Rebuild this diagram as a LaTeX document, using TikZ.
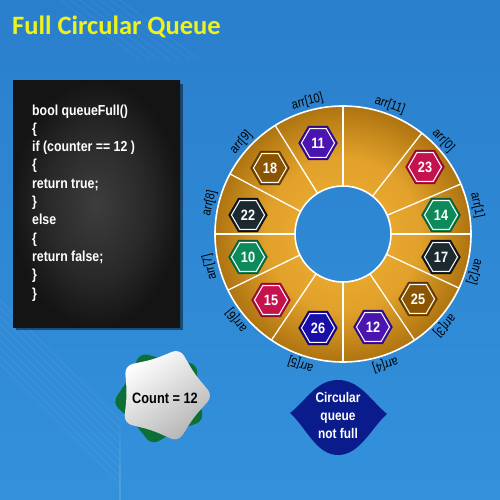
\documentclass[tikz,border=0pt]{standalone}
\usepackage{fontspec}
\setmainfont[FakeStretch=0.85]{Liberation Sans}
\newfontfamily\titlefont{Carlito}
\usetikzlibrary{shapes.geometric,calc}
\definecolor{bgtop}{HTML}{2A7FCC}
\definecolor{bgbot}{HTML}{3391DB}
\definecolor{titleyellow}{HTML}{EEF21A}
\definecolor{ringin}{HTML}{E8A72E}
\definecolor{ringout}{HTML}{AE7410}
\definecolor{hpurple}{HTML}{4A14B0}
\definecolor{hpurpled}{HTML}{2A0A80}
\definecolor{hcrimson}{HTML}{C4124E}
\definecolor{hcrimsond}{HTML}{8A0A30}
\definecolor{hbrown}{HTML}{8A5400}
\definecolor{hbrownd}{HTML}{5A3500}
\definecolor{hdark}{HTML}{1C2A30}
\definecolor{hdarkd}{HTML}{0A1015}
\definecolor{hgreen}{HTML}{0D8A5A}
\definecolor{hgreend}{HTML}{055A3A}
\definecolor{hblue}{HTML}{1A0EA8}
\definecolor{hblued}{HTML}{100070}
\definecolor{navy}{HTML}{0A1C8C}
\definecolor{stargreen}{HTML}{0C7036}
\pgfdeclareradialshading{ringshade}{\pgfpoint{0bp}{0bp}}{color(0bp)=(ringin); color(9bp)=(ringin); color(15bp)=(ringin!88!ringout); color(25bp)=(ringout); color(50bp)=(ringout)}
\pgfdeclareradialshading{codeshade}{\pgfpoint{0bp}{0bp}}{color(0bp)=(black!76); color(15bp)=(black!84); color(25bp)=(black!92); color(50bp)=(black!92)}
\tikzset{
  hexout/.style={regular polygon, regular polygon sides=6, minimum size=38pt, inner sep=0pt, line width=1.2pt},
  hexin/.style={regular polygon, regular polygon sides=6, minimum size=33pt, inner sep=0pt, draw=white, line width=1pt, text=white, font=\bfseries\fontsize{15}{15}\selectfont},
  segline/.style={white, line width=1.3pt},
  lab/.style={font=\fontsize{13}{13}\selectfont, text=black, inner sep=0pt},
  codeline/.style={anchor=base west, text=white, font=\bfseries\fontsize{14.5}{14.5}\selectfont, inner sep=0pt},
  starshape/.style={star, star points=5, minimum size=98pt, rounded corners=8pt, inner sep=0pt},
}
\newcommand{\hexnode}[4]{%
  \node[hexout, fill=h#3, draw=h#3d] (#1o) at #2 {};
  \node[hexin, fill=h#3] (#1) at #2 {#4};}
\begin{document}
\begin{tikzpicture}[x=1pt,y=1pt]
\useasboundingbox (0,0) rectangle (500,-500);
\shade[top color=bgtop, bottom color=bgbot] (0,0) rectangle (500,-500);
% faint background lines
\begin{scope}[white, opacity=0.06, line width=0.8pt]
  \foreach \d in {0,8,...,64} {\draw (0,-300-\d) -- (120,-420-\d) -- (120,-500);}
  \foreach \d in {0,10,...,60} {\draw (60+\d,0) -- (140+\d,-60);}
\end{scope}
% title
\node[anchor=base west, inner sep=0pt, text=titleyellow, font=\titlefont\bfseries\fontsize{26.5}{26.5}\selectfont] (title) at (12,-35) {Full Circular Queue};
% code box
\fill[black, opacity=0.45] (16,-84) rectangle (183,-330);
\shade[shading=codeshade] (13,-81) rectangle (180,-327);
\node[minimum width=167pt, minimum height=246pt, inner sep=0pt] (code) at (96.5,-204) {};
\foreach \t [count=\i from 0] in {bool queueFull(), \{, if (counter == 12 ), \{, return true;, \}, else, \{, return false;, \}, \}}
  \node[codeline] (cl\i) at (32,{-115-18.3*\i}) {\t};
% ring
\coordinate (c) at (343,-234);
\shade[shading=ringshade, even odd rule] (c) circle (128) (c) circle (48);
\draw[white, line width=1.6pt] (c) circle (128);
\draw[white, line width=1.6pt] (c) circle (48);
\foreach \a in {90,52,23,0,-25,-56,-90,-124,-154,180,152,122}
  \draw[segline] ($(c)+(\a:48)$) -- ($(c)+(\a:128)$);
% hexagons
\hexnode{v11}{(318,-143)}{purple}{11}
\hexnode{v23}{(425,-167)}{crimson}{23}
\hexnode{v18}{(270,-168)}{brown}{18}
\hexnode{v22}{(248,-215)}{dark}{22}
\hexnode{v14}{(441,-215)}{green}{14}
\hexnode{v10}{(248,-257)}{green}{10}
\hexnode{v17}{(441,-257)}{dark}{17}
\hexnode{v15}{(271,-300)}{crimson}{15}
\hexnode{v25}{(418,-299)}{brown}{25}
\hexnode{v26}{(318,-328)}{blue}{26}
\hexnode{v12}{(373,-327)}{purple}{12}
% labels
\foreach \i/\a in {10/105, 11/70, 0/43, 1/12, 2/-16, 3/-42, 4/-72, 5/-108, 6/-141, 7/-166, 8/167, 9/138}
  \node[lab, rotate=\a-90] (arr\i) at ($(c)+(\a:137)$) {arr[\i]};
% count star
\node[starshape, star point ratio=1.32, fill=stargreen, shape border rotate=25] (cg) at (161,-397) {};
\node[starshape, star point ratio=1.32, top color=white, bottom color=black!30, shading angle=35, shape border rotate=-19] (cw) at (164,-395) {};
\node[font=\bfseries\fontsize{15}{15}\selectfont, text=black] (count) at (165,-398) {Count = 12};
% decision shape
\fill[navy] (290,-413) .. controls (306,-401) and (316,-380) .. (338,-380) .. controls (360,-380) and (371,-401) .. (387,-414) .. controls (371,-428) and (360,-455) .. (338,-455) .. controls (316,-455) and (306,-427) .. (290,-413) -- cycle;
\node[align=center, text=white, font=\bfseries\fontsize{14}{18}\selectfont] (nf) at (338,-415) {Circular\\queue\\not full};
\end{tikzpicture}
\end{document}
